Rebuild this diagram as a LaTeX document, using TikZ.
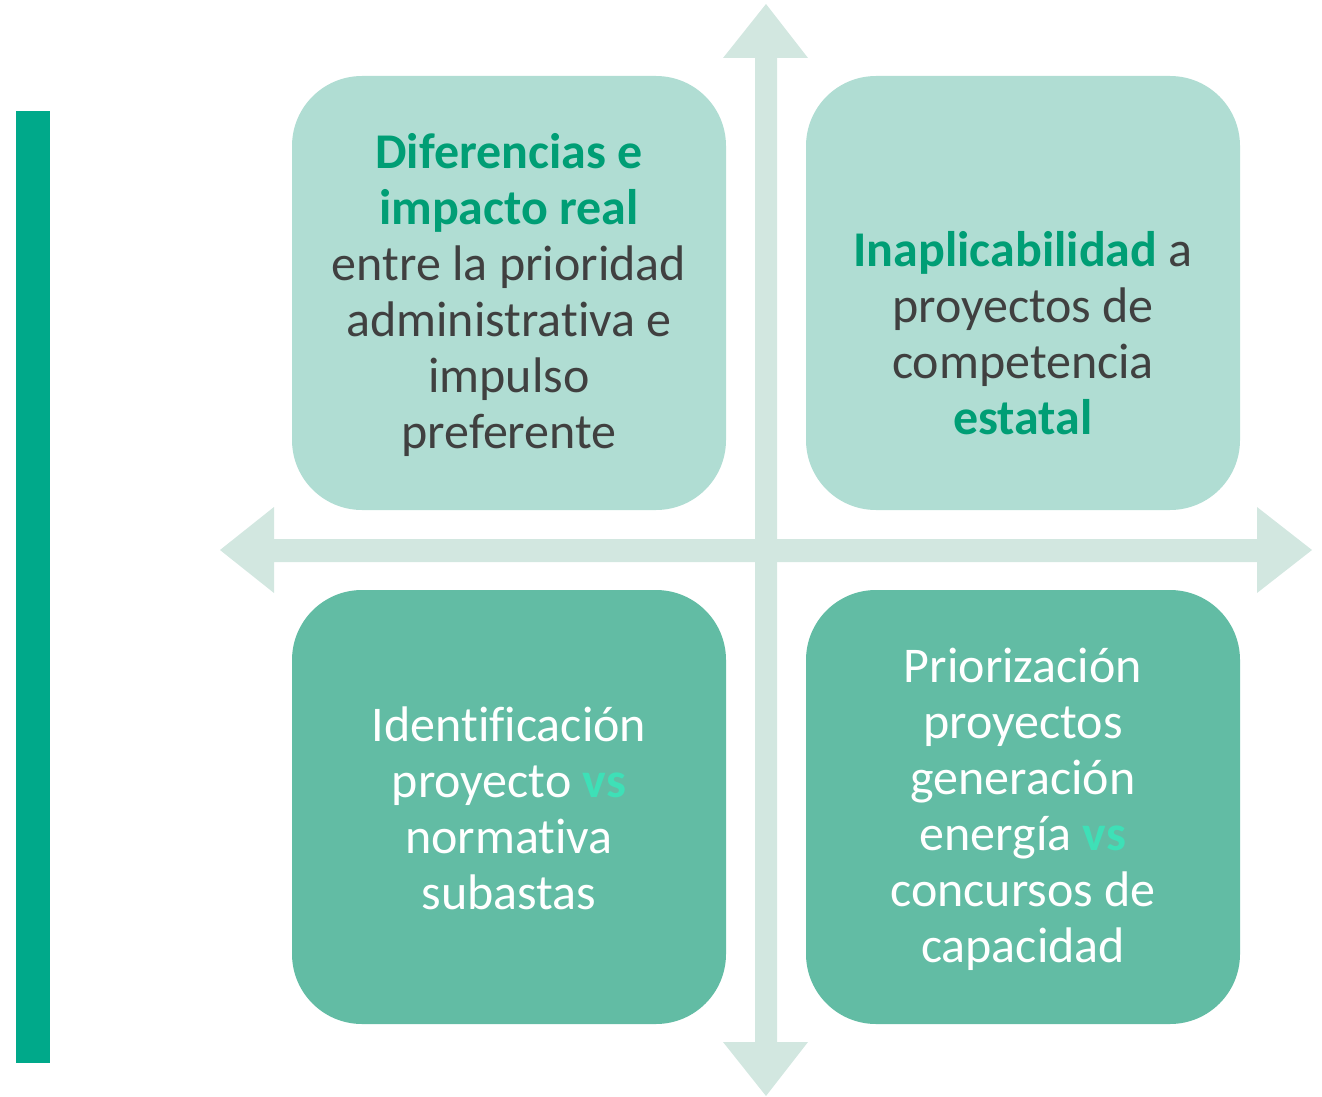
\documentclass[tikz,border=0pt]{standalone}
\usepackage{fontspec}
\setmainfont{Carlito}[Ligatures=NoCommon]
\usepackage{tikz}
\usepackage{xcolor}
\definecolor{barGreen}{HTML}{00A98A}
\definecolor{axisGrey}{HTML}{D2E7E0}
\definecolor{lightBox}{HTML}{B0DDD3}
\definecolor{darkBox}{HTML}{62BCA4}
\definecolor{hiGreen}{HTML}{009E75}
\definecolor{txtGrey}{HTML}{404040}
\definecolor{vsGreen}{HTML}{3EE0B7}
\tikzstyle{quad} = [rectangle, rounded corners=70pt, minimum width=434pt, minimum height=434pt]
\tikzstyle{upper} = [quad, fill=lightBox]
\tikzstyle{lower} = [quad, fill=darkBox]
\tikzstyle{quadtext} = [align=center, font=\fontsize{50}{56}\selectfont]
\newcommand{\hl}[1]{\textbf{\color{hiGreen}#1}}
\newcommand{\vsmark}{\textbf{\color{vsGreen}vs}}

\begin{document}
\begin{tikzpicture}[x=1pt,y=-1pt]
  \useasboundingbox (0,0) rectangle (1322,1097);
  % side bar
  \fill[barGreen] (16,111) rectangle (50,1063);

  % boxes
  \node[upper] (TL) at (509,293) {};
  \node[upper] (TR) at (1023,293) {};
  \node[lower] (BL) at (509,807) {};
  \node[lower] (BR) at (1023,807) {};

  % axes
  \fill[axisGrey] (755,58) -- (723,58) -- (766,4) -- (808,58) -- (777,58)
    -- (777,1042) -- (808,1042) -- (766,1096) -- (723,1042) -- (755,1042) -- cycle;
  \fill[axisGrey] (274,539) -- (274,507) -- (220,550) -- (274,593) -- (274,562)
    -- (1257,562) -- (1257,593) -- (1312,550) -- (1257,507) -- (1257,539) -- cycle;

  % texts
  \node[quadtext, text=txtGrey] (TLtext) at (509,295)
    {\hl{Diferencias e}\\ \hl{impacto real}\\ entre la prioridad\\ administrativa e\\ impulso\\ preferente};
  \node[quadtext, text=txtGrey] (TRtext) at (1023,333)
    {\hl{Inaplicabilidad} a\\ proyectos de\\ competencia\\ \hl{estatal}};
  \node[quadtext, text=white] (BLtext) at (509,808)
    {Identificación\\ proyecto \vsmark\\ normativa\\ subastas};
  \node[quadtext, text=white] (BRtext) at (1023,809)
    {Priorización\\ proyectos\\ generación\\ energía \vsmark\\ concursos de\\ capacidad};
\end{tikzpicture}
\end{document}
